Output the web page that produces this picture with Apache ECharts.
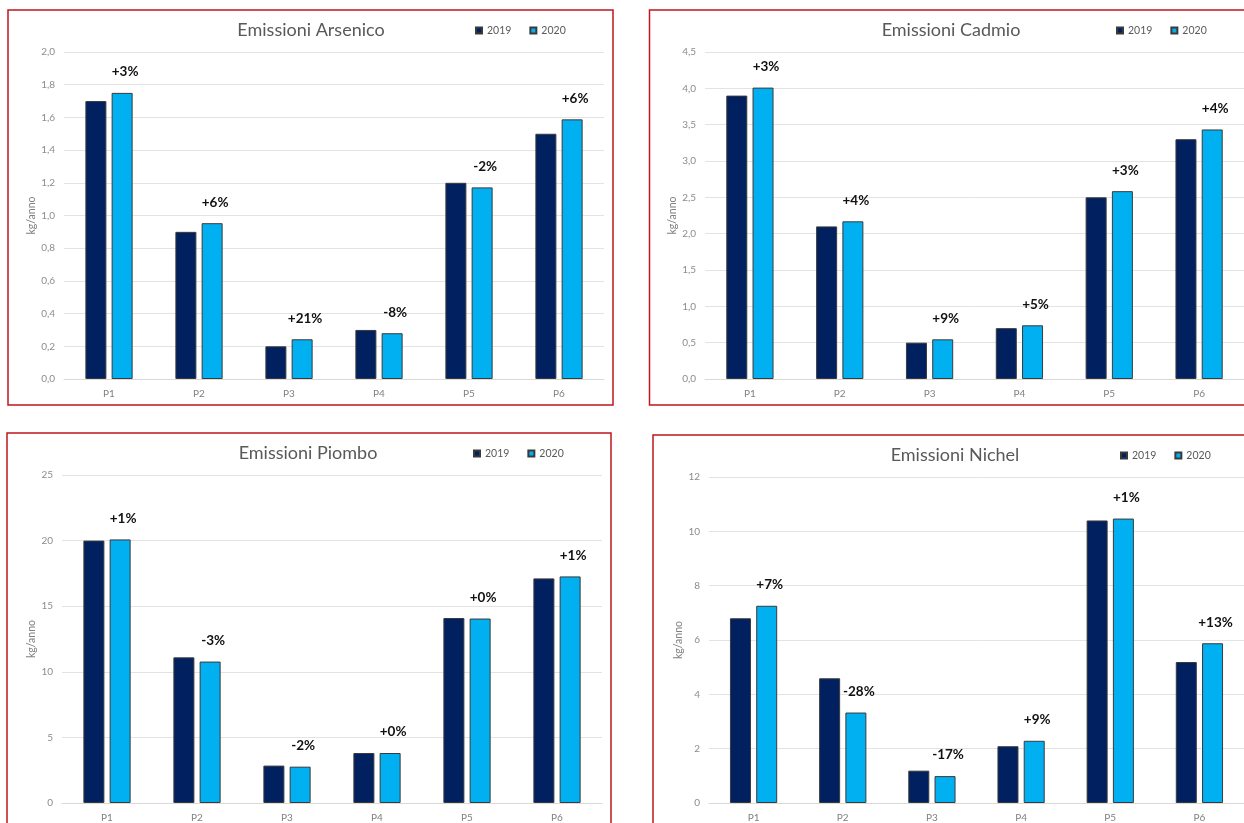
<!DOCTYPE html>
<html>
<head>
<meta charset="utf-8">
<title>Emissioni metalli 2019-2020</title>
<script src="https://cdn.jsdelivr.net/npm/echarts@6/dist/echarts.min.js"></script>
<style>
  html, body { margin: 0; padding: 0; background: #ffffff; }
  #chart { width: 1244px; height: 823px; }
</style>
</head>
<body>
<div id="chart"></div>
<script>
// Punti di misura
const categories = ['P1', 'P2', 'P3', 'P4', 'P5', 'P6'];
const years = ['2019', '2020'];

// Arsenico (kg/anno)
const arsenico2019 = [1.70, 0.90, 0.20, 0.30, 1.20, 1.50];
const arsenico2020 = [1.75, 0.953, 0.243, 0.28, 1.172, 1.588];
const arsenicoVar = ['+3%', '+6%', '+21%', '-8%', '-2%', '+6%'];

// Cadmio (kg/anno)
const cadmio2019 = [3.90, 2.10, 0.50, 0.70, 2.50, 3.30];
const cadmio2020 = [4.01, 2.17, 0.546, 0.739, 2.585, 3.434];
const cadmioVar = ['+3%', '+4%', '+9%', '+5%', '+3%', '+4%'];

// Piombo (kg/anno)
const piombo2019 = [20.0, 11.1, 2.85, 3.81, 14.1, 17.12];
const piombo2020 = [20.09, 10.78, 2.77, 3.81, 14.06, 17.27];
const piomboVar = ['+1%', '-3%', '-2%', '+0%', '+0%', '+1%'];

// Nichel (kg/anno)
const nichel2019 = [6.80, 4.59, 1.19, 2.09, 10.40, 5.19];
const nichel2020 = [7.26, 3.33, 0.99, 2.29, 10.47, 5.88];
const nichelVar = ['+7%', '-28%', '-17%', '+9%', '+1%', '+13%'];

// Assi Y: [max, passo, decimali]
const yArsenico = [2.0, 0.2, 1];
const yCadmio = [4.5, 0.5, 1];
const yPiombo = [25, 5, 0];
const yNichel = [12, 2, 0];

const panels = [
  { title: 'Emissioni Arsenico', a: arsenico2019, b: arsenico2020, v: arsenicoVar, y: yArsenico,
    box: [8, 10, 605, 395], grid: { left: 64, top: 52, width: 540, height: 327 },
    titlePos: [311, 30], legendPos: [475, 31] },
  { title: 'Emissioni Cadmio', a: cadmio2019, b: cadmio2020, v: cadmioVar, y: yCadmio,
    box: [649.5, 10, 700, 395], grid: { left: 705, top: 52, width: 540, height: 327 },
    titlePos: [951, 30], legendPos: [1116, 31] },
  { title: 'Emissioni Piombo', a: piombo2019, b: piombo2020, v: piomboVar, y: yPiombo,
    box: [7, 433, 604, 500], grid: { left: 62, top: 475, width: 540, height: 328 },
    titlePos: [308, 453], legendPos: [473, 454] },
  { title: 'Emissioni Nichel', a: nichel2019, b: nichel2020, v: nichelVar, y: yNichel,
    box: [653, 435, 700, 500], grid: { left: 709, top: 477, width: 540, height: 326 },
    titlePos: [955, 455], legendPos: [1120, 456] }
];

const FONT = 'Lato, "Open Sans", sans-serif';
const C2019 = '#002060';
const C2020 = '#00b0f0';

const option = {
  animation: false,
  backgroundColor: '#ffffff',
  textStyle: { fontFamily: FONT },
  legend: [],
  grid: [],
  xAxis: [],
  yAxis: [],
  series: [],
  graphic: []
};

panels.forEach((p, i) => {
  // cornice del pannello
  option.graphic.push({
    type: 'rect',
    shape: { x: p.box[0], y: p.box[1], width: p.box[2], height: p.box[3] },
    style: { fill: 'none', stroke: '#c0171c', lineWidth: 1.5 },
    silent: true
  });
  // titolo del pannello
  option.graphic.push({
    type: 'text',
    x: p.titlePos[0], y: p.titlePos[1],
    style: {
      text: p.title, fill: '#595959', font: '18px ' + FONT,
      align: 'center', verticalAlign: 'middle'
    },
    silent: true
  });
  option.legend.push({
    data: years,
    left: p.legendPos[0],
    top: p.legendPos[1] - 6,
    padding: 0,
    icon: 'rect',
    itemWidth: 6,
    itemHeight: 6,
    itemGap: 18,
    textStyle: { color: '#595959', fontSize: 10.5, fontFamily: FONT }
  });
  option.grid.push(Object.assign({ containLabel: false }, p.grid));
  option.xAxis.push({
    type: 'category',
    gridIndex: i,
    data: categories,
    axisTick: { show: false },
    axisLine: { lineStyle: { color: '#d9d9d9', width: 1 } },
    axisLabel: { color: '#808080', fontSize: 10, margin: 10, fontFamily: FONT }
  });
  const dec = p.y[2];
  option.yAxis.push({
    type: 'value',
    gridIndex: i,
    min: 0,
    max: p.y[0],
    interval: p.y[1],
    name: 'kg/anno',
    nameLocation: 'middle',
    nameGap: 22,
    nameRotate: 90,
    nameTextStyle: { color: '#808080', fontSize: 10.5, fontFamily: FONT },
    axisLine: { show: false },
    axisTick: { show: false },
    splitLine: { lineStyle: { color: '#e3e3e3', width: 1 } },
    axisLabel: {
      color: '#8c8c8c', fontSize: 10, margin: 9, fontFamily: FONT,
      formatter: v => v.toFixed(dec).replace('.', ',')
    }
  });
  option.series.push({
    name: '2019',
    type: 'bar',
    xAxisIndex: i,
    yAxisIndex: i,
    data: p.a,
    barWidth: 21,
    barGap: '25%',
    itemStyle: { color: C2019, borderColor: '#3a3a3a', borderWidth: 1 }
  });
  option.series.push({
    name: '2020',
    type: 'bar',
    xAxisIndex: i,
    yAxisIndex: i,
    data: p.b.map((val, k) => ({ value: val, label: { formatter: p.v[k] } })),
    barWidth: 21,
    barGap: '25%',
    itemStyle: { color: C2020, borderColor: '#3a3a3a', borderWidth: 1 },
    label: {
      show: true,
      position: 'top',
      distance: 14,
      offset: [3, 0],
      color: '#111111',
      fontSize: 13.5,
      fontWeight: 'bold',
      fontFamily: FONT
    }
  });
});

const chart = echarts.init(document.getElementById('chart'), null, { renderer: 'canvas' });
chart.setOption(option);
</script>
</body>
</html>
